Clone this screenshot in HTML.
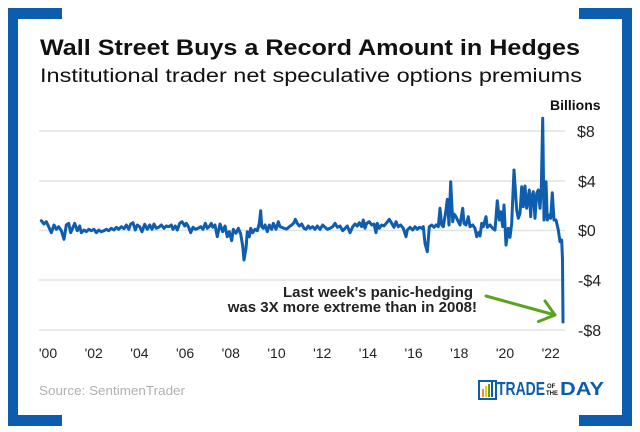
<!DOCTYPE html>
<html><head><meta charset="utf-8"><style>
html,body{margin:0;padding:0;background:#fff;}
svg{display:block;}
text{font-family:"Liberation Sans",Arial,sans-serif;}
</style></head><body>
<svg width="640" height="432" viewBox="0 0 640 432" xmlns="http://www.w3.org/2000/svg">
<rect x="0" y="0" width="640" height="432" fill="#fff"/>
<!-- brackets -->
<g fill="#0c5daf">
<rect x="8" y="8" width="10" height="418"/>
<rect x="8" y="8" width="54" height="11"/>
<rect x="8" y="415" width="54" height="11"/>
<rect x="622" y="8" width="10" height="418"/>
<rect x="579" y="8" width="53" height="11"/>
<rect x="579" y="415" width="53" height="11"/>
</g>
<!-- titles -->
<text x="40" y="55" font-size="22" font-weight="bold" fill="#111" textLength="540" lengthAdjust="spacingAndGlyphs">Wall Street Buys a Record Amount in Hedges</text>
<text x="40" y="82" font-size="19" fill="#111" textLength="542" lengthAdjust="spacingAndGlyphs">Institutional trader net speculative options premiums</text>
<text x="550" y="110" font-size="14" font-weight="bold" fill="#111">Billions</text>
<!-- grid -->
<g stroke="#e2e2e2" stroke-width="1.5">
<line x1="39" y1="131" x2="565" y2="131"/>
<line x1="39" y1="181" x2="565" y2="181"/>
<line x1="39" y1="230.5" x2="565" y2="230.5"/>
<line x1="39" y1="280" x2="565" y2="280"/>
<line x1="39" y1="330" x2="565" y2="330"/>
</g>
<g font-size="16" fill="#222">
<text x="577" y="137">$8</text>
<text x="578" y="187">$4</text>
<text x="578" y="236">$0</text>
<text x="578" y="286">-$4</text>
<text x="578" y="336">-$8</text>
</g>
<g font-size="14" fill="#222" text-anchor="middle">
<text x="48" y="358">'00</text>
<text x="93.7" y="358">'02</text>
<text x="139.4" y="358">'04</text>
<text x="185.1" y="358">'06</text>
<text x="230.8" y="358">'08</text>
<text x="276.5" y="358">'10</text>
<text x="322.2" y="358">'12</text>
<text x="367.9" y="358">'14</text>
<text x="413.6" y="358">'16</text>
<text x="459.3" y="358">'18</text>
<text x="505" y="358">'20</text>
<text x="550.7" y="358">'22</text>
</g>
<!-- series -->
<polyline fill="none" stroke="#0e5dae" stroke-width="3" stroke-linejoin="round" stroke-linecap="round" points="
41.3,220.7 44,224 46.3,221.7 48.7,226.7 51.3,232.7 54,225 56.3,229.3 58.7,226.7 61.3,230.7 64,239.3 66.3,225 68.7,223.3 70.7,232.7 73,227.3 74.7,223.3 77.3,230.7 79.7,226 81.3,232.7 84,230 86.3,231.7 88.7,229.3 91.3,230.7 94,229.3 96.3,232.7 98.7,230 101.3,231.7 104,230.7 106.3,229.3 108.7,230.7 111.3,228.3 114,230 116.3,227.3 118.7,229.3 121.3,226.7 124,228.7 126.3,225 128.7,229.3 130.7,224 133,222.7 135.3,230 137.3,225 139.7,226.7 142,231.7 144.7,224.3 147.3,229.3 149.7,225 152,229.3 154,224 156.3,228.3 158.7,227.3 161.3,225 164,228.3 166.3,226 168.7,226.7 171.3,225 173,229.3 175.3,226 177.3,230 179.7,223.3 182,221.7 184.7,226 186.3,223.3 188.7,227.3 190.7,232.7 193,227.3 195.3,229.3 198,228.3 200.7,226.7 203,229.3 205.3,223.3 207.3,228.3 209.7,226 211.3,223.3
212.7,227.3 215,225 217.3,236.7 220,224 222.7,231.7 225,226 227.3,236.7 229.3,231.7 231.7,240.7 233.3,229.3 236,233.3 238.3,228.3 240.7,234 242.7,246 244,260 246,248.3 247.3,231.7 249.3,236.7 250.7,228.3 252.7,232.7 255,229.3 257.3,230.7 259.3,223.3 260.7,210.7 261.7,226.7 263.3,228.3 265,225 267.3,231.7 269.3,225 271.7,229.3 273.3,223.3 276,229.3 278.3,221.7 280,226.7 281.7,227.3 284,228.3 286.7,229 289.3,226.7 291.7,225 294,222.7 295.3,219.3 297.3,223.3 299.3,226 301.7,224 304,228.3 306,229.3 308.3,226 310,228.3 312.7,226.7 315,229.3 317.3,226 320,229.3 322.7,225 325,227.3 327.3,229.3 330,228.3 332.7,226.7 335,223.3 337.3,227.3 340,226 342.7,230.7 345,228.3 347.3,226 350,232.7 352.7,226.7 355,224 357.3,226 359.3,222.7 361.7,226.7 363.3,220 365,228.3 366.7,223.3 369.3,221.7 371.7,225 374,224 376,232.7 377.3,223.3 379.3,228.3 381.7,225 384,226 386.7,222.7 389.3,219.3
391.7,223.3 394,227.3 396,221.7 398.3,226.7 400.7,225 403.3,228.3 406,236.7 407.3,230 410,227.3 412.7,230 415,226.7 417.3,229.3 419.3,227.3 421.7,228.3 423.3,226.7 425,243.3 427.3,251.7 429.3,226.7 431.7,225 434,227.3 436,225 438.3,226.7 440,208.3 441.7,225 443.3,226.7 446,210 447.3,199.3 449,225 450.7,181.7 452.7,221.7 454,214 456,216.7 458.3,221.7 460,225 462.7,208.3 464,223.3 466,225 468.3,216.7 470,226.7 472.7,225 475,228.3 476.7,236.7 478.3,232.7 480,236 481.7,223.3 483.3,226.7 486,216.7 487.3,227.3 490,225 492.7,228.3 495,230 497.3,200.7 499.3,220 500.7,211.7 502.7,226.7 504,205 506,245 508.3,228.3 510,237.3 511.7,223.3 514,170 516.7,210 518.3,218.3 520,213.3 521.7,186.7 523.3,206.7 525,186 526.7,208.3 529.3,190 530.7,216.7 531.7,196.7 533.3,191.7 535,218.3 536.7,193.3 538.3,190 540,208.3 541.3,188.3 542.7,118.3 544,220 546,181.7 547.3,220 549.3,215 550.7,218.3 552.3,192.7 554,220 556,220 558.3,230 560,241.7 561.7,240 562.5,260 563,322"/>
<!-- annotation -->
<g font-size="15" font-weight="bold" fill="#222">
<text x="283" y="297" textLength="190" lengthAdjust="spacingAndGlyphs">Last week's panic-hedging</text>
<text x="477" y="312" text-anchor="end">was 3X more extreme than in 2008!</text>
</g>
<g stroke="#5ba31f" stroke-width="3" fill="none" stroke-linecap="round" stroke-linejoin="round">
<line x1="486" y1="296" x2="555" y2="315"/>
<polyline points="545,301 555,315 538.5,321.5"/>
</g>
<!-- source -->
<text x="39" y="395" font-size="13" fill="#b0b0b0" textLength="146" lengthAdjust="spacingAndGlyphs">Source: SentimenTrader</text>
<!-- logo -->
<g>
<rect x="479" y="381" width="17" height="18" fill="none" stroke="#0c5daf" stroke-width="2"/>
<rect x="482" y="389" width="2" height="8" fill="#f28c28"/>
<rect x="485" y="386" width="2" height="11" fill="#f5c518"/>
<rect x="488" y="384" width="2" height="13" fill="#5ba31f"/>
<rect x="491" y="382" width="2" height="15" fill="#0c5daf"/>
<text x="497" y="395" font-size="18" font-weight="bold" fill="#0c5daf" textLength="48" lengthAdjust="spacingAndGlyphs">TRADE</text>
<text x="547" y="388" font-size="6" font-weight="bold" fill="#111">OF</text>
<text x="546" y="395" font-size="6" font-weight="bold" fill="#111" textLength="12" lengthAdjust="spacingAndGlyphs">THE</text>
<text x="560" y="395" font-size="18" font-weight="bold" fill="#0c5daf" textLength="44" lengthAdjust="spacingAndGlyphs">DAY</text>
</g>
</svg>
</body></html>
